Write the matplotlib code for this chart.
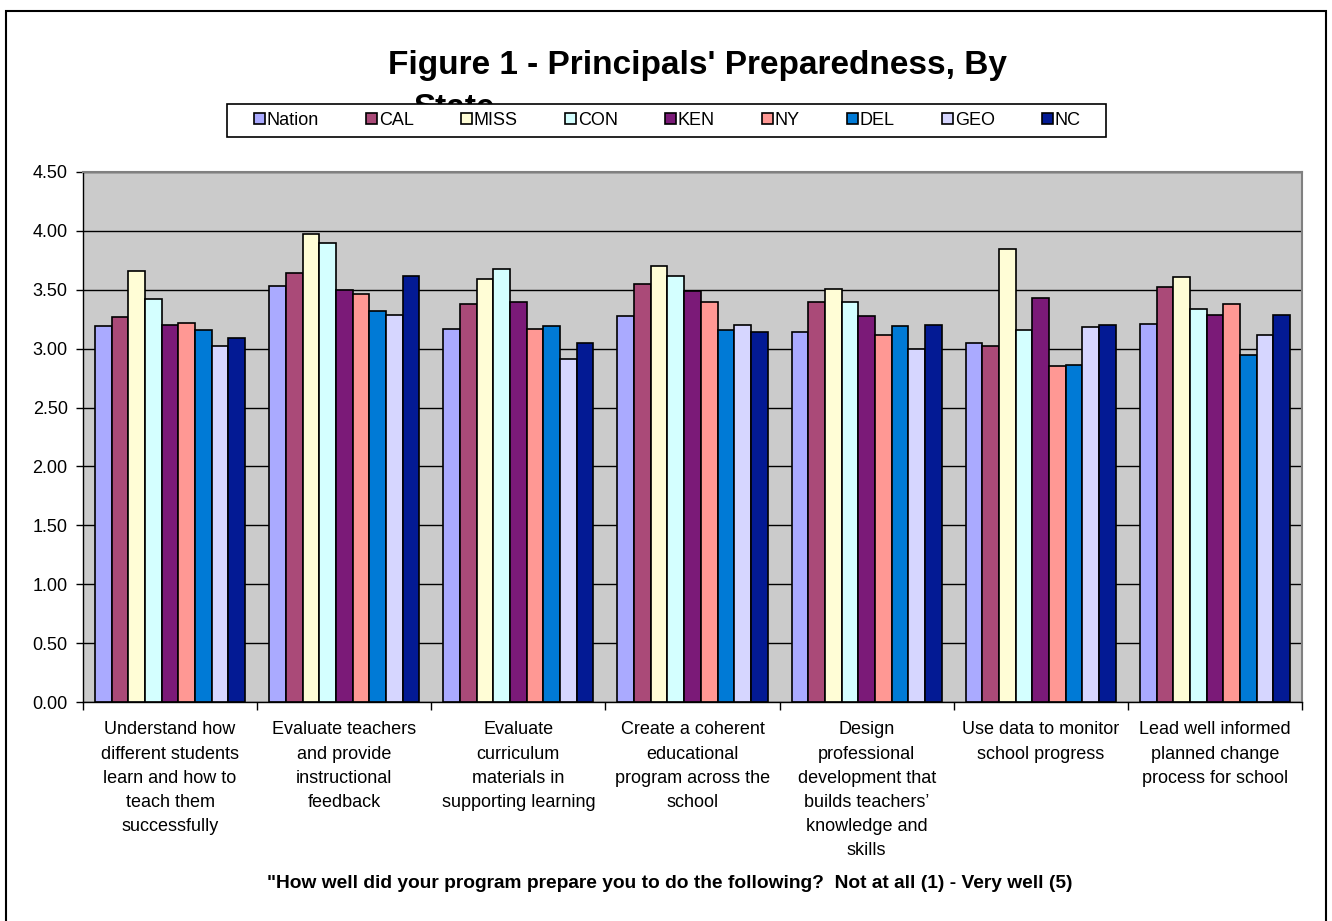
import numpy as np
import matplotlib.pyplot as plt
from matplotlib.patches import Patch, Rectangle

plt.rcParams['font.family'] = ['Liberation Sans', 'DejaVu Sans']

categories = [
    'Understand how\ndifferent students\nlearn and how to\nteach them\nsuccessfully',
    'Evaluate teachers\nand provide\ninstructional\nfeedback',
    'Evaluate\ncurriculum\nmaterials in\nsupporting learning',
    'Create a coherent\neducational\nprogram across the\nschool',
    'Design\nprofessional\ndevelopment that\nbuilds teachers\u2019\nknowledge and\nskills',
    'Use data to monitor\nschool progress',
    'Lead well informed\nplanned change\nprocess for school',
]
states = ['Nation', 'CAL', 'MISS', 'CON', 'KEN', 'NY', 'DEL', 'GEO', 'NC']

nation = [3.19, 3.53, 3.17, 3.28, 3.14, 3.05, 3.21]
cal = [3.27, 3.64, 3.38, 3.55, 3.40, 3.02, 3.52]
miss = [3.66, 3.97, 3.59, 3.70, 3.51, 3.85, 3.61]
con = [3.42, 3.90, 3.68, 3.62, 3.40, 3.16, 3.34]
ken = [3.20, 3.50, 3.40, 3.49, 3.28, 3.43, 3.29]
ny = [3.22, 3.46, 3.17, 3.40, 3.12, 2.85, 3.38]
dele = [3.16, 3.32, 3.19, 3.16, 3.19, 2.86, 2.95]
geo = [3.02, 3.29, 2.91, 3.20, 3.00, 3.18, 3.12]
nc = [3.09, 3.62, 3.05, 3.14, 3.20, 3.20, 3.29]
series = [nation, cal, miss, con, ken, ny, dele, geo, nc]

colors = ['#AAAAFF', '#AA4A78', '#FFFDD6', '#D4FFFF', '#7B1A78',
          '#FF9894', '#007AD6', '#D6D6FF', '#031A94']

yticks = np.arange(0, 4.51, 0.5)

W, H = 1332, 921
fig = plt.figure(figsize=(W / 100, H / 100), dpi=100)
ax = fig.add_axes([83 / W, 1 - 702 / H, (1302 - 83) / W, (702 - 172) / H])
ax.set_facecolor('#CBCBCB')
ax.set_axisbelow(True)

x = np.arange(len(categories))
w = 0.0958
for i, (vals, c) in enumerate(zip(series, colors)):
    ax.bar(x + (i - 4) * w, vals, w, color=c, edgecolor='black', linewidth=1.2)

ax.set_xlim(-0.5, len(categories) - 0.5)
ax.set_ylim(0, 4.5)
ax.set_yticks(yticks)
ax.set_yticklabels([f'{v:.2f}' for v in yticks], fontsize=13)
ax.yaxis.grid(True, color='black', linewidth=1)
ax.tick_params(axis='y', length=5, width=1, pad=6, direction='out')

# group boundaries carry the ticks, group centres carry the labels
ax.set_xticks(np.arange(len(categories) + 1) - 0.5)
ax.set_xticklabels([])
ax.tick_params(axis='x', which='major', length=6, width=1, direction='out')
ax.set_xticks(x, minor=True)
ax.set_xticklabels(categories, minor=True, fontsize=13, linespacing=1.55)
ax.tick_params(axis='x', which='minor', length=0, pad=14)

for s in ['top', 'right']:
    ax.spines[s].set_color('#808080')
    ax.spines[s].set_linewidth(1.5)
for s in ['left', 'bottom']:
    ax.spines[s].set_color('black')
    ax.spines[s].set_linewidth(1)

fig.text(670 / W, 1 - 883 / H,
         '"How well did your program prepare you to do the following?  Not at all (1) - Very well (5)',
         ha='center', va='center', fontsize=13.8, fontweight='bold')

fig.text(388 / W, 1 - 74 / H, "Figure 1 - Principals' Preparedness, By",
         ha='left', va='baseline', fontsize=24, fontweight='bold', zorder=3)
fig.text(413 / W, 1 - 117 / H, 'State',
         ha='left', va='baseline', fontsize=24, fontweight='bold', zorder=3)

# legend box sits on top of the title's second line
fig.patches.append(Rectangle((227 / W, 1 - 137 / H), (1106 - 227) / W, 33 / H,
                             transform=fig.transFigure, facecolor='white',
                             edgecolor='black', linewidth=1.2, zorder=4))
handles = [Patch(facecolor=c, edgecolor='black', linewidth=1.2) for c in colors]
leg = fig.legend(handles, states, ncol=9, loc='center',
                 bbox_to_anchor=(245 / W, 1 - 137 / H, (1090 - 245) / W, 33 / H),
                 mode='expand', fontsize=13, frameon=False, borderaxespad=0,
                 handlelength=0.6, handleheight=0.6, handletextpad=0.1,
                 borderpad=0.5)
leg.set_zorder(10)

fig.patches.append(Rectangle((6 / W, -0.01), (1326 - 6) / W, 1.01 - 11 / H,
                             transform=fig.transFigure, fill=False,
                             edgecolor='black', linewidth=1.5))

fig.savefig('out.png', dpi=100)
